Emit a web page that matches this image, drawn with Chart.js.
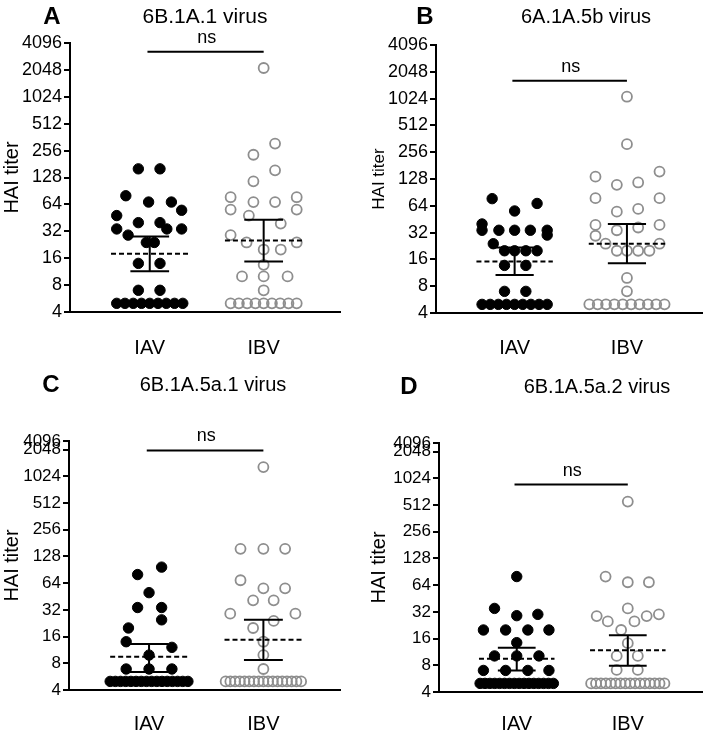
<!DOCTYPE html>
<html>
<head>
<meta charset="utf-8">
<script src="https://cdn.jsdelivr.net/npm/chart.js@4.4.1/dist/chart.umd.min.js"></script>
<style>
  body { margin: 0; background: #fff; }
  #wrap { position: relative; width: 709px; height: 733px; }
  canvas { position: absolute; }
</style>
</head>
<body>
<div id="wrap">
  <canvas id="panelA" width="354" height="366" style="left:0;top:0"></canvas>
  <canvas id="panelB" width="355" height="366" style="left:354px;top:0"></canvas>
  <canvas id="panelC" width="354" height="367" style="left:0;top:366px"></canvas>
  <canvas id="panelD" width="355" height="367" style="left:354px;top:366px"></canvas>
</div>
<script>
const groups = ['IAV', 'IBV'];
const yTicks = [4, 8, 16, 32, 64, 128, 256, 512, 1024, 2048, 4096];

// A - 6B.1A.1 virus
const aIAV = [160, 160, 80, 68, 68, 55, 48, 40, 40, 34, 34, 34, 29, 24, 24, 14, 14, 7, 7, 5, 5, 5, 5, 5, 5, 5, 5, 5];
const aIAVjit = [-0.10, 0.09, -0.21, -0.01, 0.19, 0.28, -0.29, -0.10, 0.09, -0.29, 0.15, 0.28, -0.19, -0.03, 0.04, -0.10, 0.09, -0.10, 0.09];
const aIBV = [2150, 307, 230, 154, 116, 77, 77, 68, 68, 56, 56, 48, 39, 29, 24, 24, 20, 20, 13.5, 10, 10, 10, 7, 5, 5, 5, 5, 5, 5, 5, 5, 5];
const aIBVjit = [0, 0.10, -0.09, 0.10, -0.09, -0.29, 0.29, -0.09, 0.10, -0.29, 0.29, -0.13, 0.15, -0.29, -0.15, 0.29, 0, 0.15, 0, -0.19, 0, 0.21, 0];
const aMean = [17.9, 25.3];
const aLow = [11.4, 14.7];
const aHigh = [28, 43];
const aNs = 3260;

// B - 6A.1A.5b virus
const bIAV = [77, 68, 56, 40, 34, 34, 34, 34, 34, 30, 24, 20, 20, 20, 20, 13.7, 13.7, 7, 7, 5, 5, 5, 5, 5, 5, 5, 5, 5];
const bIAVjit = [-0.20, 0.20, 0, -0.29, -0.29, -0.14, 0, 0.14, 0.29, 0.29, -0.19, -0.09, 0, 0.10, 0.20, -0.09, 0.10, -0.09, 0.10];
const bIBV = [1075, 315, 155, 136, 117, 110, 78, 78, 59, 55, 39, 39, 36.5, 34, 29.5, 24, 24, 20, 20, 20, 20, 9.9, 7, 5, 5, 5, 5, 5, 5, 5, 5, 5, 5];
const bIBVjit = [0, 0, 0.29, -0.28, 0.10, -0.09, -0.28, 0.29, 0.10, -0.09, -0.28, 0.29, 0.10, -0.09, -0.28, -0.19, 0.29, -0.09, 0, 0.10, 0.20, 0, 0];
const bMean = [15.2, 24];
const bLow = [10.7, 14.5];
const bHigh = [21.7, 40];
const bNs = 1630;

// C - 6B.1A.5a.1 virus
const cIAV = [97, 80, 50, 34, 34, 24.7, 20, 14, 12.1, 9.9, 6.9, 6.9, 6.9, 5, 5, 5, 5, 5, 5, 5, 5, 5, 5, 5, 5, 5, 5, 5, 5];
const cIAVjit = [0.11, -0.10, 0, -0.10, 0.11, 0.11, -0.18, -0.20, 0.20, 0, -0.20, 0, 0.20];
const cIBV = [1300, 156, 156, 156, 69, 56, 56, 41, 41, 29, 29, 24, 20, 14, 9.9, 6.9, 5, 5, 5, 5, 5, 5, 5, 5, 5, 5, 5, 5, 5, 5, 5, 5, 5];
const cIBVjit = [0, -0.20, 0, 0.19, -0.20, 0, 0.19, -0.09, 0.09, -0.29, 0.28, 0.09, -0.09, 0, 0, 0];
const cMean = [9.5, 14.7];
const cLow = [6.4, 8.7];
const cHigh = [13.2, 24.7];
const cNs = 2000;

// D - 6B.1A.5a.2 virus
const dIAV = [80, 35, 30, 29, 20, 20, 20, 20, 14.4, 10.2, 10.2, 10.2, 7, 7, 7, 7, 5, 5, 5, 5, 5, 5, 5, 5, 5, 5, 5, 5, 5, 5, 5, 5];
const dIAVjit = [0, -0.20, 0.19, 0, -0.30, -0.10, 0.10, 0.29, 0, -0.20, 0, 0.20, -0.30, -0.10, 0.10, 0.29];
const dIBV = [560, 80, 69, 69, 35, 30, 28.7, 28.7, 25, 25, 20, 14.2, 10.2, 10.2, 7.1, 7.1, 5, 5, 5, 5, 5, 5, 5, 5, 5, 5, 5, 5, 5, 5, 5, 5];
const dIBVjit = [0, -0.20, 0, 0.19, 0, 0.28, -0.28, 0.17, -0.18, 0.06, -0.06, 0, -0.10, 0.09, -0.10, 0.09];
const dMean = [9.5, 11.8];
const dLow = [7, 7.9];
const dHigh = [12.6, 17.4];
const dNs = 870;

const FONT = '"Liberation Sans", Arial, Helvetica, sans-serif';

// points at the assay floor sit in one packed row; spread those evenly
function jitterFor(vals, jit, half) {
  const n = vals.length - jit.length;
  const out = jit.slice();
  for (let i = 0; i < n; i++) out.push(n > 1 ? -half + (2 * half * i) / (n - 1) : 0);
  return out;
}

function dots(vals, jit, center, filled) {
  return {
    data: vals.map((v, i) => ({ x: center + jit[i], y: v })),
    backgroundColor: filled ? '#000' : 'rgba(0,0,0,0)',
    borderColor: filled ? '#000' : '#8e8e8e',
    borderWidth: filled ? 1 : 1.8,
    pointRadius: filled ? 5.2 : 5,
    order: 2,
    clip: false
  };
}

function line(pts, dash) {
  return {
    data: pts,
    showLine: true,
    borderColor: '#000',
    borderWidth: 2,
    borderDash: dash || [],
    pointRadius: 0,
    spanGaps: false,
    order: 0,
    clip: false
  };
}

const panelText = {
  id: 'panelText',
  afterDraw(chart, args, o) {
    const { ctx, scales: { x, y } } = chart;
    ctx.save();
    ctx.fillStyle = '#000';
    ctx.textAlign = 'center';
    ctx.textBaseline = 'middle';
    ctx.font = 'bold 24px ' + FONT;
    ctx.fillText(o.letter, o.letterX, o.textY);
    ctx.font = o.titleSize + 'px ' + FONT;
    ctx.fillText(o.title, o.titleX, o.textY);
    ctx.font = '18px ' + FONT;
    ctx.fillText('ns', x.getPixelForValue(1.5), y.getPixelForValue(o.ns) - 14);
    ctx.restore();
  }
};

function makePanel(p) {
  const canvas = document.getElementById(p.id);
  const W = canvas.width, H = canvas.height;
  const datasets = [];

  for (let g = 0; g < 2; g++) {
    const c = g + 1;
    datasets.push(line([{ x: c - 0.34, y: p.mean[g] }, { x: c + 0.34, y: p.mean[g] }], [5, 3]));
    datasets.push(line([
      { x: c - 0.17, y: p.high[g] }, { x: c + 0.17, y: p.high[g] }, { x: c, y: null },
      { x: c, y: p.high[g] }, { x: c, y: p.low[g] }, { x: c, y: null },
      { x: c - 0.17, y: p.low[g] }, { x: c + 0.17, y: p.low[g] }
    ]));
  }
  datasets.push(line([{ x: 0.98, y: p.ns }, { x: 2.0, y: p.ns }]));
  datasets.push(dots(p.iav, jitterFor(p.iav, p.iavJit, p.rowIAV), 1, true));
  datasets.push(dots(p.ibv, jitterFor(p.ibv, p.ibvJit, p.rowIBV), 2, false));

  // panels C and D squeeze the 2048-4096 step of the axis into a few pixels
  const ticks = p.yMax === 4096 ? yTicks : yTicks.slice(0, -1).concat([p.yMax]);

  new Chart(canvas.getContext('2d'), {
    type: 'scatter',
    data: { datasets: datasets },
    options: {
      responsive: false,
      animation: false,
      events: [],
      layout: { padding: { left: 0, top: p.area.top, right: W - p.area.right, bottom: 0 } },
      scales: {
        x: {
          type: 'linear',
          min: 0.3,
          max: 2.67,
          grid: { display: false, drawTicks: false },
          border: { display: true, color: '#000', width: 2 },
          afterBuildTicks: (s) => { s.ticks = groups.map((g, i) => ({ value: i + 1 })); },
          afterFit: (s) => { s.height = H - p.area.bottom; },
          ticks: {
            padding: p.xPad,
            color: '#000',
            font: { family: FONT, size: 20 },
            callback: (v) => groups[v - 1]
          }
        },
        y: {
          type: 'logarithmic',
          min: 4,
          max: p.yMax,
          grid: { display: true, drawOnChartArea: false, drawTicks: true, tickLength: 6, color: '#000', lineWidth: 2 },
          border: { display: true, color: '#000', width: 2 },
          afterBuildTicks: (s) => { s.ticks = ticks.map(v => ({ value: v })); },
          afterFit: (s) => { s.width = p.area.left; },
          ticks: {
            autoSkip: false,
            padding: 2,
            color: '#000',
            font: { family: FONT, size: p.tickSize },
            callback: (v) => (v === p.yMax ? '4096' : String(v))
          },
          title: {
            display: true,
            text: 'HAI titer',
            color: '#000',
            font: { family: FONT, size: p.axisTitleSize },
            padding: { top: p.axisTitlePad, bottom: 0 }
          }
        }
      },
      plugins: {
        legend: { display: false },
        tooltip: { enabled: false },
        panelText: {
          letter: p.letter, letterX: p.letterX, title: p.title, titleX: p.titleX,
          titleSize: p.titleSize, textY: p.textY, ns: p.ns
        }
      }
    },
    plugins: [panelText]
  });
}

makePanel({
  id: 'panelA', letter: 'A', title: '6B.1A.1 virus', letterX: 52, titleX: 205, textY: 17, titleSize: 21,
  area: { left: 70, top: 43, right: 340, bottom: 312 }, yMax: 4096, tickSize: 18,
  axisTitleSize: 20, axisTitlePad: 0, xPad: 24,
  iav: aIAV, iavJit: aIAVjit, ibv: aIBV, ibvJit: aIBVjit, rowIAV: 0.29, rowIBV: 0.29,
  mean: aMean, low: aLow, high: aHigh, ns: aNs
});
makePanel({
  id: 'panelB', letter: 'B', title: '6A.1A.5b virus', letterX: 71, titleX: 232, textY: 17, titleSize: 20,
  area: { left: 82, top: 45, right: 353, bottom: 313 }, yMax: 4096, tickSize: 18,
  axisTitleSize: 17, axisTitlePad: 15, xPad: 23,
  iav: bIAV, iavJit: bIAVjit, ibv: bIBV, ibvJit: bIBVjit, rowIAV: 0.29, rowIBV: 0.335,
  mean: bMean, low: bLow, high: bHigh, ns: bNs
});
makePanel({
  id: 'panelC', letter: 'C', title: '6B.1A.5a.1 virus', letterX: 51, titleX: 213, textY: 19, titleSize: 20,
  area: { left: 69, top: 75, right: 340, bottom: 324 }, yMax: 2560, tickSize: 17,
  axisTitleSize: 20, axisTitlePad: 0, xPad: 22,
  iav: cIAV, iavJit: cIAVjit, ibv: cIBV, ibvJit: cIBVjit, rowIAV: 0.34, rowIBV: 0.33,
  mean: cMean, low: cLow, high: cHigh, ns: cNs
});
makePanel({
  id: 'panelD', letter: 'D', title: '6B.1A.5a.2 virus', letterX: 55, titleX: 243, textY: 21, titleSize: 20,
  area: { left: 85, top: 77, right: 352, bottom: 326 }, yMax: 2560, tickSize: 17,
  axisTitleSize: 20, axisTitlePad: 13, xPad: 20,
  iav: dIAV, iavJit: dIAVjit, ibv: dIBV, ibvJit: dIBVjit, rowIAV: 0.33, rowIBV: 0.33,
  mean: dMean, low: dLow, high: dHigh, ns: dNs
});
</script>
</body>
</html>
